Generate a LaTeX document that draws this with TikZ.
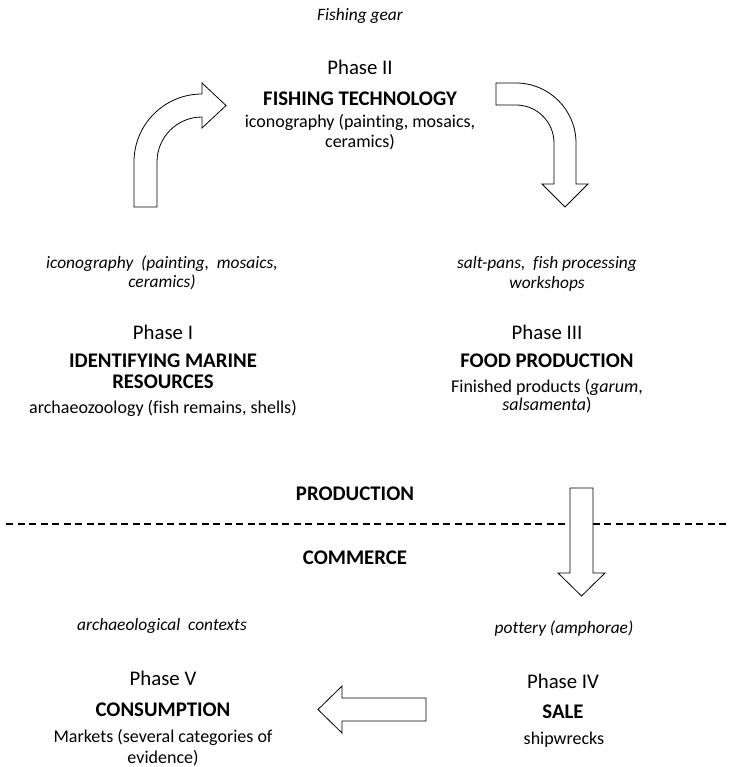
\documentclass[tikz,border=0pt]{standalone}
\usepackage{fontspec}
\setmainfont[Ligatures=NoCommon]{Carlito}
\begin{document}
\begin{tikzpicture}[x=1pt,y=-1pt,
  reg/.style={anchor=base,inner sep=0pt,font=\fontsize{18}{21}\selectfont},
  phase/.style={anchor=base,inner sep=0pt,font=\fontsize{20.8}{24}\selectfont},
  bld/.style={anchor=base,inner sep=0pt,font=\fontsize{20.8}{24}\selectfont\bfseries},
  itl/.style={anchor=base,inner sep=0pt,font=\fontsize{17.4}{20}\selectfont\itshape},
  blockarrow/.style={draw=black,line width=0.8pt,fill=white,line join=miter},
  divider/.style={line width=1.6pt,dash pattern=on 7pt off 4.5pt}]
\useasboundingbox (0,0) rectangle (729,767);

% Phase II
\node[itl] (gear) at (360,21) {Fishing gear};
\node[phase] (p2) at (360,75) {Phase II};
\node[bld] (p2t) at (360,106) {FISHING TECHNOLOGY};
\node[reg] (p2a) at (360,128) {iconography (painting, mosaics,};
\node[reg] (p2b) at (360,148) {ceramics)};

% Phase I
\node[itl] (p1i) at (162,268) {iconography\ \ (painting,\ \ mosaics,};
\node[itl] (p1j) at (162,287) {ceramics)};
\node[phase] (p1) at (163,339) {Phase I};
\node[bld] (p1t) at (163,367) {IDENTIFYING MARINE};
\node[bld] (p1u) at (163,388) {RESOURCES};
\node[reg] (p1a) at (163,413) {archaeozoology (fish remains, shells)};

% Phase III
\node[itl] (p3i) at (547,268) {salt-pans,\ \ fish processing};
\node[itl] (p3j) at (547,288) {workshops};
\node[phase] (p3) at (547,339) {Phase III};
\node[bld] (p3t) at (547,367) {FOOD PRODUCTION};
\node[reg] (p3a) at (547,392) {Finished products (\textit{garum},};
\node[reg] (p3b) at (547,410) {\textit{salsamenta})};

% divider
\node[bld] (prod) at (355,500) {PRODUCTION};
\node[bld] (comm) at (355,564) {COMMERCE};
\coordinate (dl) at (6,524);
\coordinate (dr) at (729,524);
\draw[divider] (dl) -- (dr);

% Phase V
\node[itl] (p5i) at (162,630) {archaeological\ \ contexts};
\node[phase] (p5) at (163,685) {Phase V};
\node[bld] (p5t) at (163,716) {CONSUMPTION};
\node[reg] (p5a) at (163,742) {Markets (several categories of};
\node[reg] (p5b) at (163,763) {evidence)};

% Phase IV
\node[itl] (p4i) at (564,633) {pottery (amphorae)};
\node[phase] (p4) at (563,688) {Phase IV};
\node[bld] (p4t) at (563,718) {SALE};
\node[reg] (p4a) at (564,744) {shipwrecks};

% arrows
\draw[blockarrow] (134,207) -- (134,162) .. controls (134,124.4) and (164.4,94) .. (202,94)
  -- (202,83) -- (226,105.5) -- (202,128) -- (202,117)
  .. controls (177.1,117) and (157,137.1) .. (157,162) -- (157,207) -- cycle;

\draw[blockarrow] (496,83) -- (516,83) .. controls (549.1,83) and (576,109.9) .. (576,143)
  -- (576,184) -- (588,184) -- (565,207) -- (542,184) -- (554,184) -- (554,143)
  .. controls (554,122) and (537,105) .. (516,105) -- (496,105) -- cycle;

\draw[blockarrow] (570,488) -- (593,488) -- (593,573) -- (605,573) -- (581.5,596)
  -- (558,573) -- (570,573) -- cycle;

\draw[blockarrow] (426,698) -- (426,721) -- (342,721) -- (342,733) -- (318,709.5)
  -- (342,686) -- (342,698) -- cycle;
\end{tikzpicture}
\end{document}
